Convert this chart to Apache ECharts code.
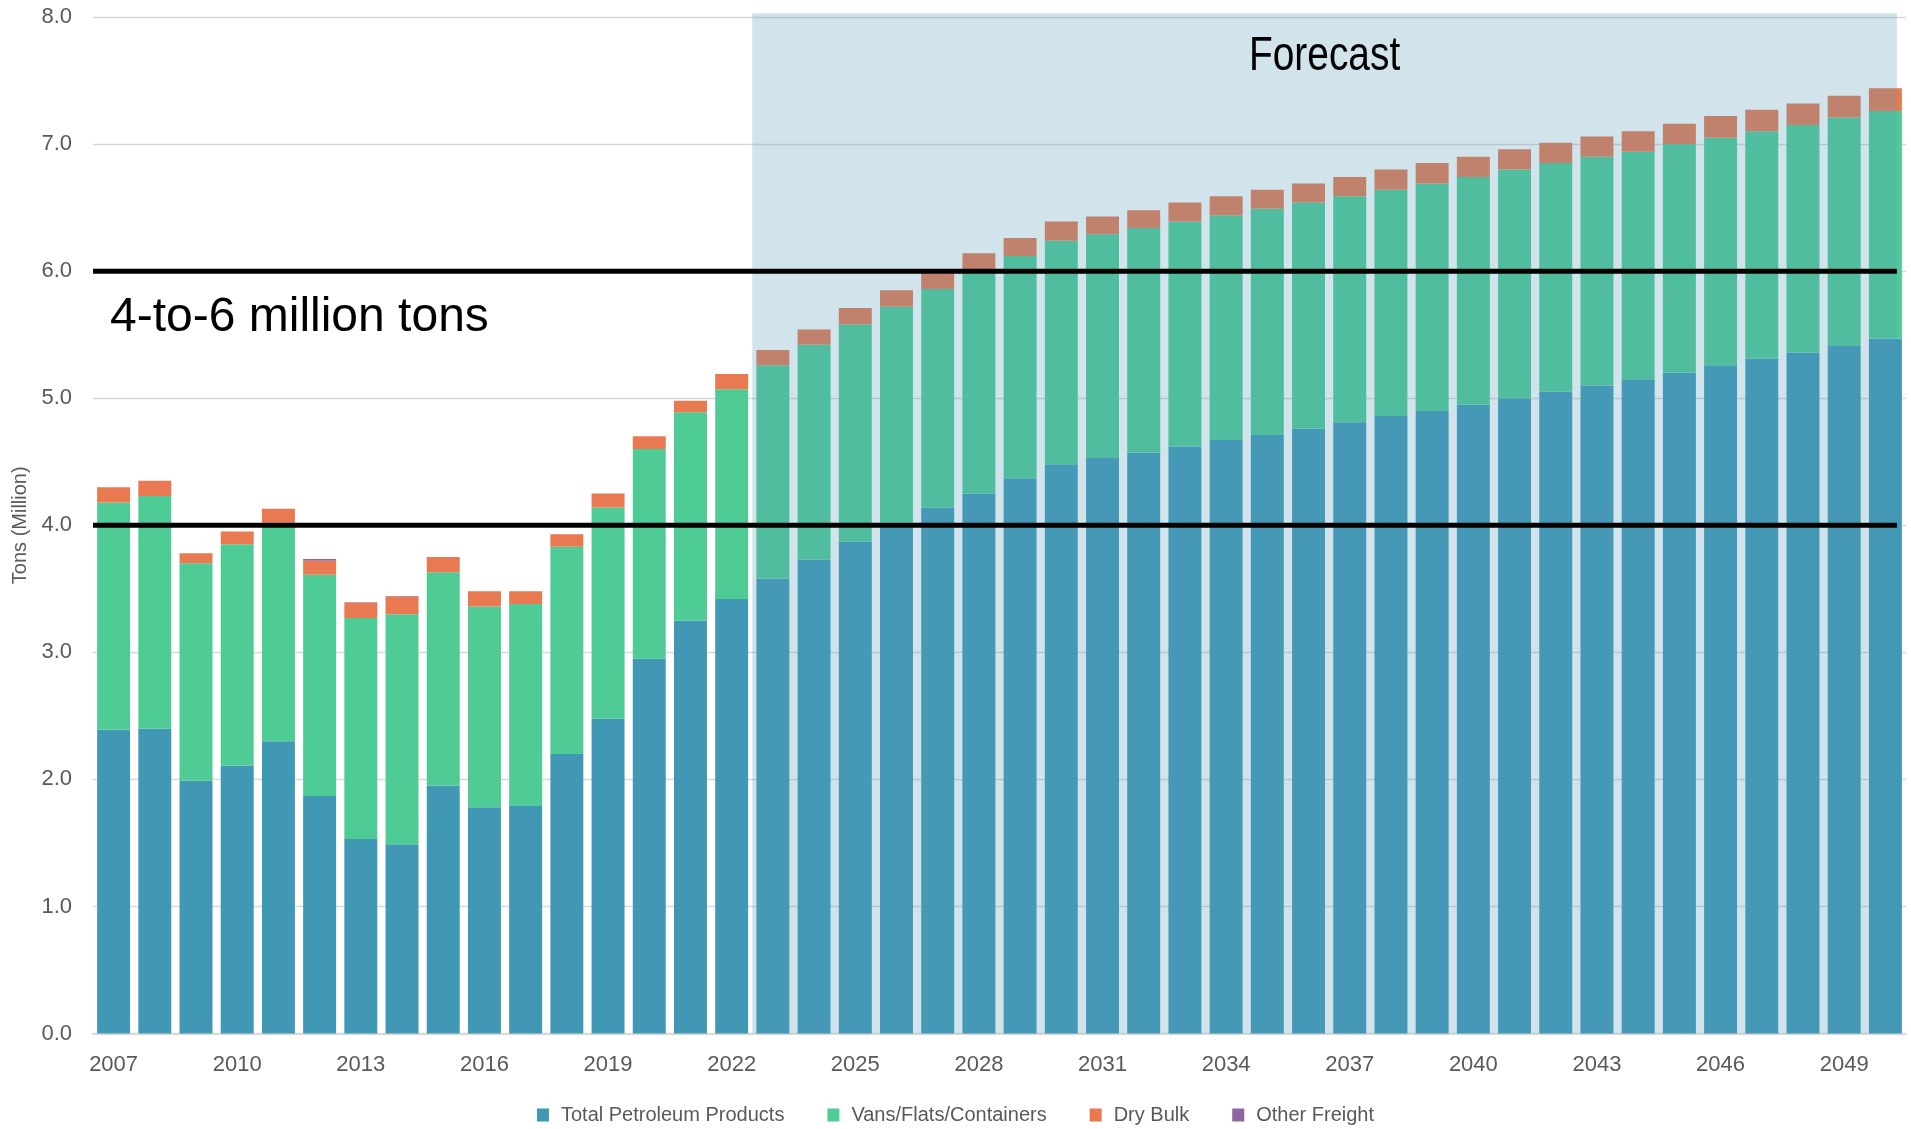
<!DOCTYPE html>
<html>
<head>
<meta charset="utf-8">
<title>Freight Tonnage by Commodity Group, 2007-2050</title>
<script src="https://cdn.jsdelivr.net/npm/echarts@6/dist/echarts.min.js"></script>
<style>
  html, body { margin: 0; padding: 0; background: #ffffff; }
  #chart { width: 1911px; height: 1129px; }
</style>
</head>
<body>
<div id="chart"></div>
<script>
// Years on the category axis
const years = [];
for (let y = 2007; y <= 2050; y++) years.push(String(y));

// Tonnage by commodity group, million tons per year
const petroleum = [
  2.39, 2.40, 1.99, 2.11, 2.30, 1.87, 1.53, 1.49, 1.95, 1.78, 1.79, 2.20, 2.48, 2.95, 3.25, 3.42,
  3.58, 3.73, 3.87, 4.02, 4.14, 4.25, 4.37, 4.48, 4.53, 4.57, 4.62, 4.67, 4.71, 4.76, 4.81, 4.86,
  4.90, 4.95, 5.00, 5.05, 5.10, 5.15, 5.20, 5.26, 5.31, 5.36, 5.41, 5.47
];
const vansFlatsContainers = [
  1.79, 1.83, 1.71, 1.74, 1.72, 1.74, 1.74, 1.81, 1.68, 1.58, 1.59, 1.63, 1.66, 1.65, 1.64, 1.65,
  1.68, 1.69, 1.71, 1.70, 1.72, 1.75, 1.75, 1.76, 1.76, 1.77, 1.77, 1.77, 1.78, 1.78, 1.78, 1.78,
  1.79, 1.79, 1.80, 1.80, 1.80, 1.79, 1.80, 1.79, 1.79, 1.79, 1.80, 1.79
];
const dryBulk = [
  0.12, 0.12, 0.08, 0.10, 0.11, 0.11, 0.12, 0.14, 0.12, 0.12, 0.10, 0.10, 0.11, 0.10, 0.09, 0.12,
  0.12, 0.12, 0.13, 0.13, 0.13, 0.14, 0.14, 0.15, 0.14, 0.14, 0.15, 0.15, 0.15, 0.15, 0.15, 0.16,
  0.16, 0.16, 0.16, 0.16, 0.16, 0.16, 0.16, 0.17, 0.17, 0.17, 0.17, 0.18
];
const otherFreight = [
  0, 0, 0, 0, 0, 0.015, 0.004, 0.004, 0, 0, 0, 0, 0, 0, 0, 0,
  0, 0, 0, 0, 0, 0, 0, 0, 0, 0, 0, 0, 0, 0, 0, 0,
  0, 0, 0, 0, 0, 0, 0, 0, 0, 0, 0, 0
];

// Forecast period and the target range lines
const forecastFirstYear = '2023';
const forecastLastYear = '2050';
const forecastLabel = 'Forecast';
const rangeBounds = [4, 6];
const rangeLabel = '4-to-6 million tons';

// Axis settings
const yMin = 0, yMax = 8, yStep = 1;
const yAxisTitle = 'Tons (Million)';

const COLORS = {
  petroleum: '#4198b5',
  vans: '#4fcb95',
  dry: '#e87950',
  other: '#8e66a0',
  band: 'rgba(85,157,183,0.27)',
  grid: '#d9d9d9',
  text: '#595959'
};
const REGULAR = "'Liberation Sans', Arial, sans-serif";

const chart = echarts.init(document.getElementById('chart'), null, { renderer: 'canvas' });

function barSeries(name, data, color) {
  return {
    name: name,
    type: 'bar',
    stack: 'total',
    data: data,
    barCategoryGap: '20%',
    itemStyle: { color: color },
    emphasis: { disabled: true },
    z: 2
  };
}

const firstIdx = years.indexOf(forecastFirstYear);
const lastIdx = years.indexOf(forecastLastYear);
const bandTop = 8.03;

const option = {
  animation: false,
  backgroundColor: '#ffffff',
  grid: { left: 93, right: 5, top: 17, bottom: 95.5, containLabel: false },
  legend: {
    data: ['Total Petroleum Products', 'Vans/Flats/Containers', 'Dry Bulk', 'Other Freight'],
    top: 1100,
    left: 'center',
    icon: 'rect',
    itemWidth: 12,
    itemHeight: 13,
    itemGap: 43,
    selectedMode: false,
    textStyle: { fontFamily: REGULAR, fontSize: 20, color: COLORS.text, padding: [0, 0, 0, 7] }
  },
  xAxis: {
    type: 'category',
    data: years,
    axisTick: { show: false },
    axisLine: { show: true, lineStyle: { color: COLORS.grid, width: 2 } },
    axisLabel: {
      interval: 2,
      margin: 20,
      fontFamily: REGULAR,
      fontSize: 22,
      color: COLORS.text
    },
    splitLine: { show: false }
  },
  yAxis: {
    type: 'value',
    min: yMin,
    max: yMax,
    interval: yStep,
    name: yAxisTitle,
    nameLocation: 'middle',
    nameGap: 53,
    nameTextStyle: { fontFamily: REGULAR, fontSize: 20, color: COLORS.text },
    axisLine: { show: false },
    axisTick: { show: false },
    axisLabel: {
      margin: 21,
      fontFamily: REGULAR,
      fontSize: 22,
      color: COLORS.text,
      formatter: v => v.toFixed(1)
    },
    splitLine: { show: true, lineStyle: { color: COLORS.grid, width: 1.3 } }
  },
  series: [
    barSeries('Total Petroleum Products', petroleum, COLORS.petroleum),
    barSeries('Vans/Flats/Containers', vansFlatsContainers, COLORS.vans),
    barSeries('Dry Bulk', dryBulk, COLORS.dry),
    barSeries('Other Freight', otherFreight, COLORS.other),
    {
      // shaded forecast period with its caption
      name: 'forecastBand',
      type: 'custom',
      z: 5,
      silent: true,
      clip: false,
      data: [[firstIdx, lastIdx, bandTop]],
      encode: { x: [0, 1], y: 2 },
      renderItem: function (params, api) {
        const w = api.size([1, 0])[0];
        const start = api.coord([api.value(0), 0]);
        const end = api.coord([api.value(1), api.value(2)]);
        const x0 = start[0] - w / 2;
        const x1 = end[0] + w * 0.28;
        return {
          type: 'group',
          children: [
            {
              type: 'rect',
              shape: { x: x0, y: end[1], width: x1 - x0, height: start[1] - end[1] },
              style: { fill: COLORS.band }
            },
            {
              // condensed caption
              type: 'text',
              x: (x0 + x1) / 2,
              y: end[1] + 44,
              scaleX: 0.81,
              style: {
                x: 0,
                y: 0,
                text: forecastLabel,
                fill: '#000000',
                font: '48px ' + REGULAR,
                textAlign: 'center',
                textVerticalAlign: 'middle'
              }
            }
          ]
        };
      }
    },
    {
      // 4 and 6 million ton reference lines
      name: 'rangeLines',
      type: 'custom',
      z: 6,
      silent: true,
      clip: false,
      data: rangeBounds.map(v => [0, lastIdx, v]),
      encode: { x: [0, 1], y: 2 },
      renderItem: function (params, api) {
        const w = api.size([1, 0])[0];
        const a = api.coord([api.value(0), api.value(2)]);
        const b = api.coord([api.value(1), api.value(2)]);
        const x0 = a[0] - w / 2;
        const x1 = b[0] + w * 0.28;
        const children = [{
          type: 'line',
          shape: { x1: x0, y1: a[1], x2: x1, y2: a[1] },
          style: { stroke: '#000000', lineWidth: 5 }
        }];
        if (params.dataIndex === rangeBounds.length - 1) {
          children.push({
            type: 'text',
            style: {
              x: x0 + 17,
              y: a[1] + 47,
              text: rangeLabel,
              fill: '#000000',
              font: '48px ' + REGULAR,
              textAlign: 'left',
              textVerticalAlign: 'middle'
            }
          });
        }
        return { type: 'group', children: children };
      }
    }
  ]
};

chart.setOption(option);
</script>
</body>
</html>
